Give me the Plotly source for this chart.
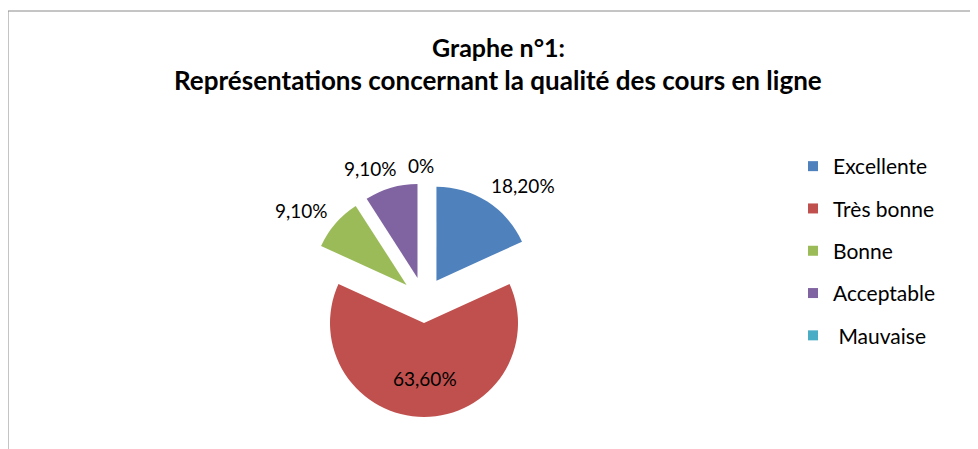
import plotly.graph_objects as go

categories = ["Excellente", "Très bonne", "Bonne", "Acceptable", "Mauvaise"]
values = [18.2, 63.6, 9.1, 9.1, 0.0]
colors = ["#4F81BD", "#C0504D", "#9BBB59", "#8064A2", "#4BACC6"]
legend_labels = ["Excellente", "Très bonne", "Bonne", "Acceptable", "\u00a0Mauvaise"]
title_lines = ["Graphe n°1:", "Représentations concernant la qualité des cours en ligne"]

W, H = 978, 449
OFF = 8  # page body margin offset


def fx(p):
    return (p - OFF) / W


def fy(p):
    return 1 - (p - OFF) / H


def fmt(v):
    if v == 0:
        return "0%"
    return f"{v:.2f}".replace(".", ",") + "%"


fig = go.Figure()

# pie
cx, cy, r, pull = 424, 300, 94, 0.245
R = r * (1 + pull)
fig.add_trace(go.Pie(
    labels=categories, values=values, sort=False, direction="clockwise", rotation=0,
    pull=[pull] * len(values), marker=dict(colors=colors, line=dict(width=0)),
    textinfo="none", hoverinfo="label+percent", showlegend=False,
    domain=dict(x=[fx(cx - R), fx(cx + R)], y=[fy(cy + R), fy(cy - R)]),
))

# legend entries
for lab, col in zip(legend_labels, colors):
    fig.add_trace(go.Scatter(x=[None], y=[None], mode="markers", name=lab,
                             legendgroup=lab,
                             marker=dict(symbol="square", size=10, color=col)))

# data labels (text derived from values)
label_pos = [(523, 185), (425, 378), (301, 210), (370, 168), (421, 165)]
for v, (px, py) in zip(values, label_pos):
    fig.add_annotation(x=fx(px), y=fy(py), xref="paper", yref="paper",
                       text=fmt(v), showarrow=False,
                       font=dict(family="Lato", size=19, color="#000000"),
                       xanchor="center", yanchor="middle")

# title
for line, py, sz in zip(title_lines, [47, 80], [25, 26]):
    fig.add_annotation(x=fx(498), y=fy(py), xref="paper", yref="paper",
                       text=f"<b>{line}</b>", showarrow=False,
                       font=dict(family="Lato", size=sz, color="#000000"),
                       xanchor="center", yanchor="middle")

# chart border (extends past right/bottom)
fig.add_shape(type="rect", xref="paper", yref="paper",
              x0=fx(8), x1=1.2, y0=-0.2, y1=fy(11),
              line=dict(color="#8A8A8A", width=1), fillcolor="rgba(0,0,0,0)")

fig.update_layout(
    width=W, height=H,
    margin=dict(l=0, r=0, t=0, b=0),
    paper_bgcolor="white", plot_bgcolor="white",
    xaxis=dict(visible=False), yaxis=dict(visible=False),
    legend=dict(x=785 / W, y=1 - 138 / H, xanchor="left", yanchor="top",
                tracegroupgap=12, font=dict(family="Lato", size=21, color="#000000"),
                bgcolor="rgba(0,0,0,0)"),
)

fig.write_html("out.html")
